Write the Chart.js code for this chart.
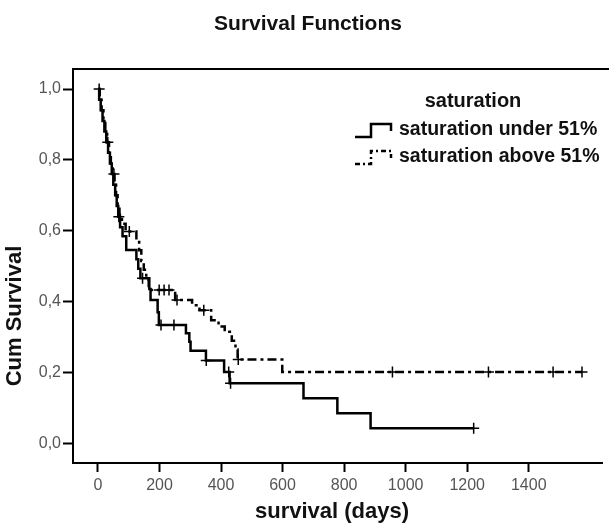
<!DOCTYPE html>
<html>
<head>
<meta charset="utf-8">
<script src="https://cdn.jsdelivr.net/npm/chart.js@4.4.0/dist/chart.umd.min.js"></script>
<style>
  html, body { margin: 0; padding: 0; background: #fff; }
</style>
</head>
<body>
<canvas id="chart" width="609" height="529"></canvas>
<script>
// Kaplan-Meier steps: day of each event and the cumulative survival after it
const underDays = [0, 4, 9, 15, 21, 27, 33, 39, 45, 50, 56, 61, 66, 72, 80, 92, 125, 131, 138, 167, 171, 194, 198, 286, 297, 301, 351, 410, 428, 668, 778, 886]
const underSurv = [1.0, 0.97, 0.94, 0.91, 0.88, 0.85, 0.82, 0.79, 0.76, 0.73, 0.70, 0.67, 0.64, 0.61, 0.585, 0.546, 0.52, 0.493, 0.466, 0.436, 0.405, 0.37, 0.334, 0.311, 0.287, 0.262, 0.234, 0.202, 0.17, 0.128, 0.085, 0.043]
const underCensored = [32, 68, 145, 205, 247, 352, 425, 431, 1221]

const aboveDays = [0, 6, 12, 18, 24, 30, 36, 42, 48, 54, 59, 64, 70, 78, 90, 125, 134, 141, 149, 157, 165, 251, 306, 330, 368, 392, 412, 435, 447, 454, 599]
const aboveSurv = [1.0, 0.97, 0.94, 0.91, 0.88, 0.85, 0.82, 0.79, 0.76, 0.73, 0.70, 0.67, 0.645, 0.62, 0.598, 0.573, 0.545, 0.515, 0.49, 0.462, 0.433, 0.405, 0.39, 0.376, 0.348, 0.33, 0.315, 0.29, 0.265, 0.237, 0.202]
const aboveCensored = [4, 52, 102, 199, 215, 231, 257, 344, 456, 957, 1269, 1479, 1573]

const groupLabels = ['saturation under 51%', 'saturation above 51%']
const xTicks = [0, 200, 400, 600, 800, 1000, 1200, 1400]
const yTicks = [0, 0.2, 0.4, 0.6, 0.8, 1.0]

const FONT = "'Liberation Sans', Arial, sans-serif"
const DASH = [9, 4, 3, 4]

function survAt(days, surv, t) {
  let s = surv[0]
  for (let i = 0; i < days.length; i++) {
    if (days[i] <= t) s = surv[i]
  }
  return s
}

// step curve runs on to the last censored case
function curve(days, surv, censored) {
  const pts = days.map((d, i) => ({ x: d, y: surv[i] }))
  pts.push({ x: censored[censored.length - 1], y: surv[surv.length - 1] })
  return pts
}

function marks(days, surv, censored) {
  return censored.map(t => ({ x: t, y: survAt(days, surv, t) }))
}

// titles, frame top and the legend box
const decorations = {
  id: 'decorations',
  afterDraw(chart) {
    const ctx = chart.ctx
    const area = chart.chartArea
    ctx.save()
    ctx.strokeStyle = '#000'
    ctx.lineWidth = 2
    ctx.beginPath()
    ctx.moveTo(area.left - 1, area.top)
    ctx.lineTo(chart.width, area.top)
    ctx.stroke()

    ctx.fillStyle = '#111'
    ctx.textAlign = 'center'
    ctx.textBaseline = 'middle'
    ctx.font = 'bold 21px ' + FONT
    ctx.fillText('Survival Functions', 308, 24)

    ctx.font = 'bold 22px ' + FONT
    ctx.fillText('survival (days)', 332, 512)

    ctx.save()
    ctx.translate(15, 316)
    ctx.rotate(-Math.PI / 2)
    ctx.font = 'bold 22px ' + FONT
    ctx.fillText('Cum Survival', 0, 0)
    ctx.restore()

    // legend
    ctx.font = 'bold 20px ' + FONT
    ctx.fillText('saturation', 473, 101)

    ctx.lineWidth = 2.5
    const rows = [130, 157]
    rows.forEach((y, i) => {
      ctx.setLineDash(i === 0 ? [] : [5, 3, 2, 3])
      ctx.beginPath()
      ctx.moveTo(355, y + 7)
      ctx.lineTo(371, y + 7)
      ctx.lineTo(371, y - 6)
      ctx.lineTo(391, y - 6)
      ctx.lineTo(391, y + 1)
      ctx.stroke()
      ctx.setLineDash([])
      ctx.textAlign = 'left'
      ctx.font = 'bold 19.5px ' + FONT
      ctx.fillText(groupLabels[i], 399, y)
    })
    ctx.restore()
  }
}

const censorStyle = {
  type: 'scatter',
  pointStyle: 'cross',
  pointRadius: 5.5,
  pointBorderWidth: 1.5,
  borderColor: '#000',
  backgroundColor: '#000'
}

new Chart(document.getElementById('chart'), {
  type: 'line',
  data: {
    datasets: [
      {
        label: groupLabels[0],
        data: curve(underDays, underSurv, underCensored),
        stepped: true,
        borderColor: '#000',
        borderWidth: 2.5,
        pointRadius: 0
      },
      {
        label: groupLabels[1],
        data: curve(aboveDays, aboveSurv, aboveCensored),
        stepped: true,
        borderColor: '#000',
        borderWidth: 2.5,
        borderDash: DASH,
        pointRadius: 0
      },
      { ...censorStyle, label: groupLabels[0] + ' censored', data: marks(underDays, underSurv, underCensored) },
      { ...censorStyle, label: groupLabels[1] + ' censored', data: marks(aboveDays, aboveSurv, aboveCensored) }
    ]
  },
  options: {
    responsive: false,
    animation: false,
    devicePixelRatio: 1,
    layout: { padding: { top: 69, right: 3, left: 0, bottom: 0 } },
    plugins: {
      legend: { display: false },
      title: { display: false },
      tooltip: { enabled: false }
    },
    scales: {
      x: {
        type: 'linear',
        min: -81,
        max: 1638,
        afterBuildTicks: axis => { axis.ticks = xTicks.map(v => ({ value: v })) },
        afterFit: axis => { axis.height = 66 },
        ticks: {
          font: { family: FONT, size: 16 },
          color: '#555',
          padding: 4,
          maxRotation: 0,
          callback: v => String(v)
        },
        grid: { drawOnChartArea: false, tickLength: 9, tickColor: '#000', tickWidth: 2 },
        border: { color: '#000', width: 2 }
      },
      y: {
        min: -0.055,
        max: 1.0565,
        afterBuildTicks: axis => { axis.ticks = yTicks.map(v => ({ value: v })) },
        afterFit: axis => { axis.width = 73 },
        ticks: {
          font: { family: FONT, size: 16 },
          color: '#555',
          padding: 2,
          callback: v => v.toFixed(1).replace('.', ',')
        },
        grid: { drawOnChartArea: false, tickLength: 10, tickColor: '#000', tickWidth: 2 },
        border: { color: '#000', width: 2 }
      }
    }
  },
  plugins: [decorations]
})
</script>
</body>
</html>
